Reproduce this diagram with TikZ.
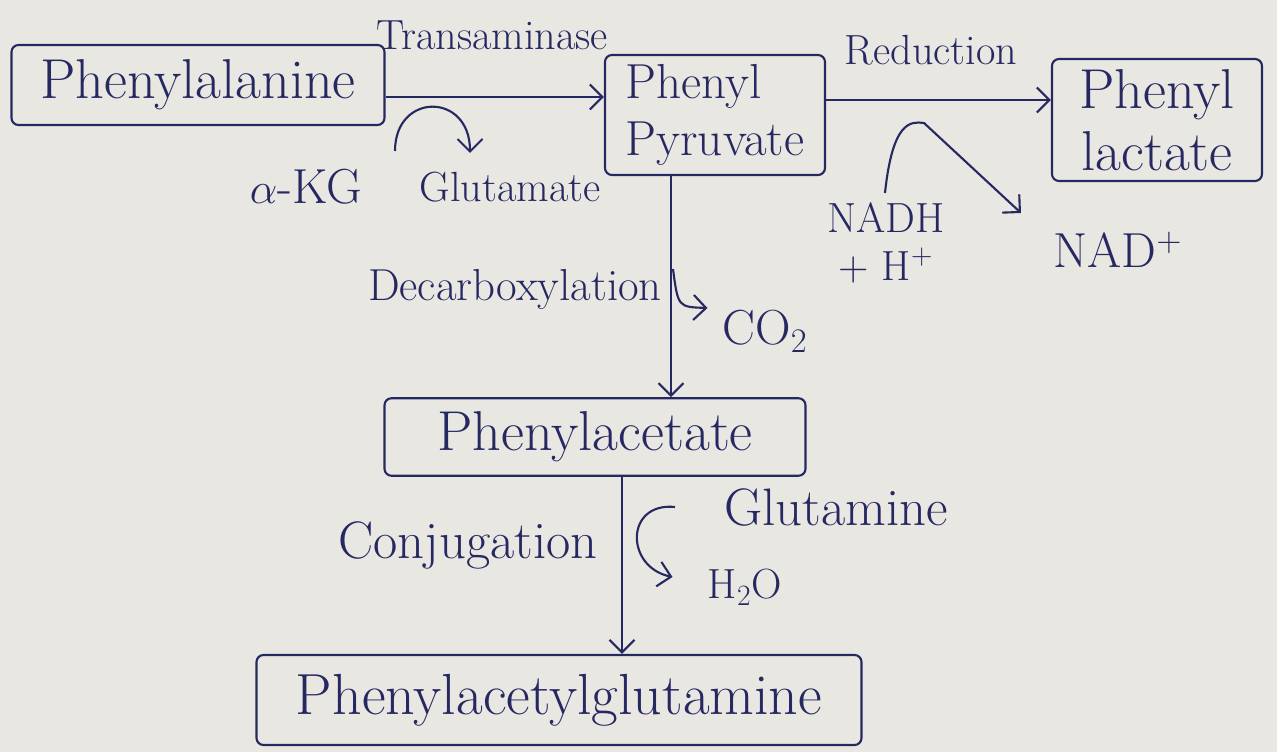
\documentclass[tikz,border=0pt]{standalone}
\usepackage{amsmath}
\usetikzlibrary{arrows.meta}
\definecolor{ink}{RGB}{38,40,98}
\definecolor{paper}{RGB}{233,231,225}

\begin{document}
\begin{tikzpicture}[
    >={Straight Barb[length=2.5mm,width=5mm]},
    pen/.style={draw=ink, line width=1.2pt},
    box/.style={pen, rounded corners=4pt, text=ink, font=\fontsize{32}{35}\selectfont},
    lbl/.style={text=ink, font=\fontsize{24}{28}\selectfont},
    biglbl/.style={text=ink, font=\fontsize{30}{34}\selectfont},
    sml/.style={text=ink, font=\fontsize{24}{27}\selectfont, align=center},
    bigsml/.style={text=ink, font=\fontsize{28}{32}\selectfont}
]
    \fill[paper] (0,0) rectangle (25.54,15.04);
    \useasboundingbox (0,0) rectangle (25.54,15.04);

    % compounds
    \node[box, minimum width=7.46cm, minimum height=1.6cm] (ala) at (3.96,13.34) {Phenylalanine};
    \node[box, font=\fontsize{28}{32}\selectfont, minimum width=4.4cm, minimum height=2.4cm, align=left] (pyr) at (14.3,12.74) {Phenyl\\Pyruvate};
    \node[box, inner sep=2pt, minimum width=4.2cm, minimum height=2.44cm, align=center] (lac) at (23.14,12.64) {Phenyl\\lactate};
    \node[box, minimum width=8.42cm, minimum height=1.55cm] (pac) at (11.9,6.3) {Phenylacetate};
    \node[box, font=\fontsize{33}{36}\selectfont, minimum width=12.1cm, minimum height=1.8cm] (plg) at (11.18,1.04) {Phenylacetylglutamine};

    % reactions
    \draw[->, pen] ([yshift=-0.24cm]ala.east) -- ([yshift=-0.24cm]ala.east -| pyr.west);
    \node[lbl] (trans) at (9.84,14.34) {Transaminase};
    \draw[->, pen] ([yshift=0.3cm]pyr.east) -- ([yshift=0.3cm]pyr.east -| lac.west);
    \node[lbl] (red) at (18.62,14.04) {Reduction};
    \draw[->, pen] ([xshift=-0.88cm]pyr.south) -- ([xshift=-0.88cm]pyr.south |- pac.north);
    \node[lbl, anchor=east, font=\fontsize{25.5}{28}\selectfont] (decarb) at (13.36,9.24) {Decarboxylation};
    \draw[->, pen] ([xshift=0.54cm]pac.south) -- ([xshift=0.54cm]pac.south |- plg.north);
    \node[biglbl] (conj) at (9.36,4.14) {Conjugation};

    % cofactors
    \node[bigsml] (akg) at (6.12,11.3) {$\alpha$-KG};
    \node[sml] (glu) at (10.2,11.3) {Glutamate};
    \coordinate (kgA) at (7.9,12.02);
    \coordinate (kgB) at (9.4,11.98);
    \draw[->, pen] (kgA) .. controls (7.9,13.2) and (9.4,13.2) .. (kgB);

    \node[sml] (nadh) at (17.72,10.18) {NADH\\+ H\textsuperscript{+}};
    \node[bigsml] (nad) at (22.36,10.04) {NAD\textsuperscript{+}};
    \coordinate (nadA) at (17.7,11.18);
    \coordinate (nadP) at (18.48,12.58);
    \coordinate (nadB) at (20.42,10.78);
    \draw[->, pen] (nadA) .. controls (17.85,12.6) and (18.2,12.62) .. (nadP) -- (nadB);

    \node[bigsml] (co2) at (15.3,8.42) {CO\textsubscript{2}};
    \coordinate (co2A) at (13.46,9.66);
    \coordinate (co2B) at (14.15,8.88);
    \draw[->, pen] (co2A) .. controls (13.56,8.9) .. (co2B);

    \node[biglbl] (gln) at (16.72,4.88) {Glutamine};
    \node[sml] (h2o) at (14.9,3.3) {H\textsubscript{2}O};
    \coordinate (glnA) at (13.5,4.9);
    \coordinate (glnB) at (13.45,3.5);
    \draw[->, pen] (glnA) .. controls (12.5,5.0) and (12.5,3.7) .. (glnB);
\end{tikzpicture}
\end{document}
